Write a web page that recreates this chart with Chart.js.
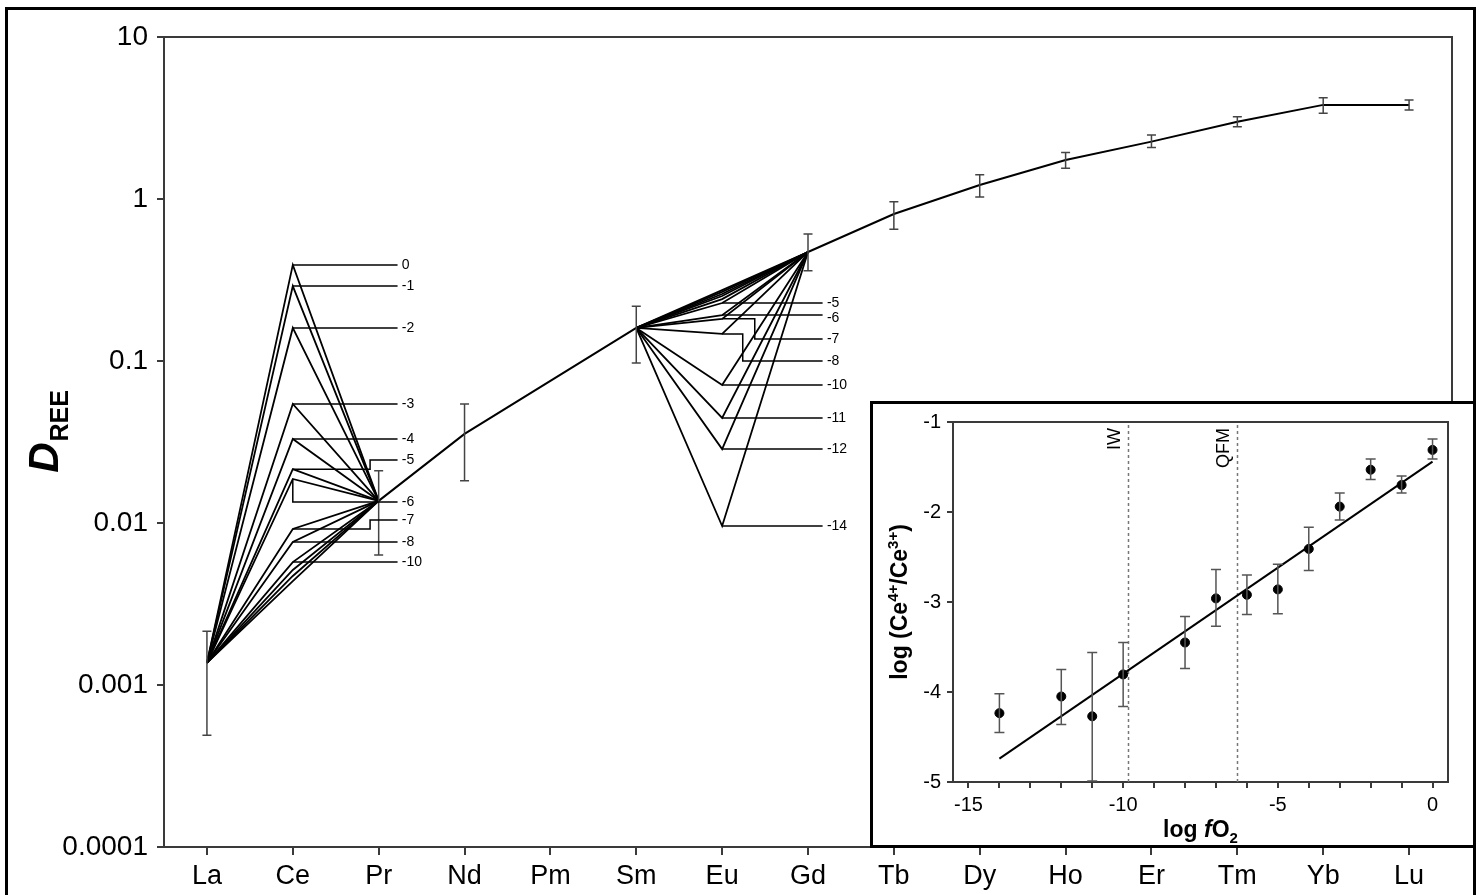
<!DOCTYPE html>
<html>
<head>
<meta charset="utf-8">
<title>D REE vs fO2</title>
<script src="https://cdn.jsdelivr.net/npm/chart.js@4.4.1/dist/chart.umd.min.js"></script>
<style>
  html, body { margin: 0; padding: 0; background: #fff; overflow: hidden; }
  #wrap { position: relative; width: 1481px; height: 895px; }
  #frame { position: absolute; left: 5px; top: 7px; width: 1465px; height: 900px; border: 3px solid #000; }
  #main { position: absolute; left: 0; top: 0; }
  #insetBox { position: absolute; left: 870px; top: 401px; width: 600px; height: 441px; border: 3px solid #000; background: #fff; }
  #inset { display: block; }
</style>
</head>
<body>
<div id="wrap">
  <canvas id="main" width="1481" height="895"></canvas>
  <div id="frame"></div>
  <div id="insetBox"><canvas id="inset" width="600" height="441"></canvas></div>
</div>
<script>
// --- partition coefficients ---
const elements = ['La', 'Ce', 'Pr', 'Nd', 'Pm', 'Sm', 'Eu', 'Gd', 'Tb', 'Dy', 'Ho', 'Er', 'Tm', 'Yb', 'Lu'];
const dTicks = [0.0001, 0.001, 0.01, 0.1, 1, 10];

// measured D and its range (null where there is none)
const dValue = [0.00137, null, 0.0137, 0.0355, null, 0.160, null, 0.471, 0.808, 1.22, 1.74, 2.26, 3.00, 3.81, 3.81];
const dLow   = [0.00049, null, 0.00634, 0.0182, null, 0.0972, null, 0.361, 0.65, 1.03, 1.55, 2.08, 2.79, 3.38, 3.54];
const dHigh  = [0.00215, null, 0.0210, 0.0543, null, 0.218, null, 0.608, 0.962, 1.41, 1.94, 2.48, 3.22, 4.22, 4.08];

// model Ce and Eu at each log fO2
const fo2Runs = [0, -1, -2, -3, -4, -5, -6, -7, -8, -10, -11, -12, -14];
const dCe = [0.392, 0.290, 0.160, 0.0543, 0.0330, 0.0215, 0.0187, 0.00918, 0.00764, 0.00574, 0.00513, 0.00471, 0.00438];
const dEu = [0.274, 0.267, 0.259, 0.252, 0.241, 0.228, 0.192, 0.182, 0.147, 0.0711, 0.0445, 0.0286, 0.00958];
const ceTagged = [0, -1, -2, -3, -4, -5, -6, -7, -8, -10];
const euTagged = [-5, -6, -7, -8, -10, -11, -12, -14];

// --- Ce4+/Ce3+ vs fO2 ---
const fo2Exp      = [-14, -12, -11, -10, -8, -7, -6, -5, -4, -3, -2, -1, 0];
const ceRatio     = [-4.235, -4.05, -4.27, -3.805, -3.45, -2.96, -2.92, -2.86, -2.41, -1.94, -1.53, -1.70, -1.31];
const ceRatioLow  = [-4.45, -4.36, -4.99, -4.16, -3.74, -3.27, -3.14, -3.13, -2.65, -2.09, -1.64, -1.79, -1.41];
const ceRatioHigh = [-4.02, -3.75, -3.56, -3.45, -3.16, -2.64, -2.70, -2.58, -2.17, -1.79, -1.41, -1.60, -1.19];
const fitX = [-14, 0];
const fitY = [-4.74, -1.44];
const bufferNames = ['IW', 'QFM'];
const bufferFo2 = [-9.83, -6.33];
const insetXLabels = [-15, -10, -5, 0];

const FONT = '"Liberation Sans", Arial, sans-serif';
const AXIS = '#3a3a3a';

// where the fO2 tags sit (in axis units)
const ceTag = { lineEnd: 2.22, textAt: 2.27 };
const euTag = { lineEnd: 7.17, textAt: 7.22 };
const ceSteps = { '-5': { x: 1.9, y: 0.0245 }, '-6': { x: 1.0, y: 0.01349 }, '-7': { x: 1.9, y: 0.01045 } };
const euSteps = { '-7': { x: 6.38, y: 0.1367 }, '-8': { x: 6.24, y: 0.1 } };
const tagNudge = { '-6': 3 };

function pick(idx) {
  return dValue.map((v, i) => idx.includes(i) ? v : null);
}

const datasets = [];
fo2Runs.forEach((f, k) => {
  const row = elements.map(() => null);
  row[0] = dValue[0]; row[1] = dCe[k]; row[2] = dValue[2];
  row[5] = dValue[5]; row[6] = dEu[k]; row[7] = dValue[7];
  datasets.push({ label: 'fO2 ' + f, data: row, borderColor: '#000', borderWidth: 1.8, pointRadius: 0, spanGaps: false });
});
datasets.push({ label: 'Pr-Sm', data: pick([2, 3, 5]), borderColor: '#000', borderWidth: 2, pointRadius: 0, spanGaps: true });
datasets.push({ label: 'Gd-Lu', data: pick([7, 8, 9, 10, 11, 12, 13, 14]), borderColor: '#000', borderWidth: 2, pointRadius: 0, spanGaps: false });

function drawErrorBar(ctx, x, y1, y2, cap) {
  ctx.beginPath();
  ctx.moveTo(x, y1); ctx.lineTo(x, y2);
  ctx.moveTo(x - cap, y1); ctx.lineTo(x + cap, y1);
  ctx.moveTo(x - cap, y2); ctx.lineTo(x + cap, y2);
  ctx.stroke();
}

const mainExtras = {
  id: 'mainExtras',
  afterDatasetsDraw(chart) {
    const { ctx, chartArea: a } = chart;
    const xs = chart.scales.x, ys = chart.scales.y;
    ctx.save();
    // frame top and right
    ctx.strokeStyle = AXIS; ctx.lineWidth = 2;
    ctx.beginPath();
    ctx.moveTo(a.left, a.top); ctx.lineTo(a.right, a.top); ctx.lineTo(a.right, a.bottom);
    ctx.stroke();

    // error bars
    ctx.strokeStyle = '#444'; ctx.lineWidth = 1.5;
    dValue.forEach((v, i) => {
      if (dLow[i] == null) return;
      drawErrorBar(ctx, xs.getPixelForValue(i), ys.getPixelForValue(dHigh[i]), ys.getPixelForValue(dLow[i]), 4.5);
    });

    // fO2 tags
    ctx.strokeStyle = '#000'; ctx.lineWidth = 1.5;
    ctx.fillStyle = '#000';
    ctx.font = '14px ' + FONT;
    ctx.textAlign = 'left'; ctx.textBaseline = 'middle';
    const tag = (xi, val, f, cfg, steps, nudge) => {
      const x0 = xs.getPixelForValue(xi), y0 = ys.getPixelForValue(val);
      const end = xs.getPixelForValue(cfg.lineEnd);
      const st = steps[String(f)];
      let yEnd = y0;
      ctx.beginPath();
      ctx.moveTo(x0, y0);
      if (st) {
        const sx = xs.getPixelForValue(st.x);
        yEnd = ys.getPixelForValue(st.y);
        ctx.lineTo(sx, y0); ctx.lineTo(sx, yEnd);
      }
      ctx.lineTo(end, yEnd);
      ctx.stroke();
      ctx.fillText(String(f), xs.getPixelForValue(cfg.textAt), yEnd + (nudge[String(f)] || 0));
    };
    ceTagged.forEach(f => tag(1, dCe[fo2Runs.indexOf(f)], f, ceTag, ceSteps, {}));
    euTagged.forEach(f => tag(6, dEu[fo2Runs.indexOf(f)], f, euTag, euSteps, tagNudge));

    // y title: D subscript REE
    ctx.translate(44, (a.top + a.bottom) / 2 - 10);
    ctx.rotate(-Math.PI / 2);
    ctx.textBaseline = 'alphabetic';
    ctx.font = 'italic bold 42px ' + FONT;
    const wD = ctx.measureText('D').width;
    ctx.font = 'bold 25px ' + FONT;
    const wR = ctx.measureText('REE').width;
    const start = -(wD + wR) / 2;
    ctx.font = 'italic bold 42px ' + FONT;
    ctx.fillText('D', start, 14);
    ctx.font = 'bold 25px ' + FONT;
    ctx.fillText('REE', start + wD + 1, 24);
    ctx.restore();
  }
};

new Chart(document.getElementById('main'), {
  type: 'line',
  data: { labels: elements, datasets },
  options: {
    responsive: false,
    devicePixelRatio: 1,
    animation: false,
    layout: { padding: { top: 37, right: 29, left: 0, bottom: 0 } },
    plugins: { legend: { display: false }, tooltip: { enabled: false } },
    elements: { line: { tension: 0 } },
    scales: {
      x: {
        type: 'category',
        offset: true,
        grid: { drawOnChartArea: false, drawTicks: true, tickLength: 8, color: AXIS, lineWidth: 2 },
        border: { display: true, color: AXIS, width: 2 },
        ticks: { color: '#000', font: { family: FONT, size: 27 }, padding: 5, maxRotation: 0, autoSkip: false },
        afterFit: s => { s.height = 48; }
      },
      y: {
        type: 'logarithmic',
        min: 0.0001,
        max: 10,
        afterBuildTicks: s => { s.ticks = dTicks.map(v => ({ value: v })); },
        grid: { drawOnChartArea: false, drawTicks: true, tickLength: 7, color: AXIS, lineWidth: 2 },
        border: { display: true, color: AXIS, width: 2 },
        ticks: { color: '#000', font: { family: FONT, size: 28 }, padding: 9, callback: v => String(v) },
        afterFit: s => { s.width = 164; }
      }
    }
  },
  plugins: [mainExtras]
});

// --- inset ---
const insetExtras = {
  id: 'insetExtras',
  beforeDatasetsDraw(chart) {
    const { ctx, chartArea: a } = chart;
    const xs = chart.scales.x;
    ctx.save();
    // buffer lines
    ctx.strokeStyle = '#777'; ctx.lineWidth = 1.5; ctx.setLineDash([3, 3]);
    bufferFo2.forEach(f => {
      const x = Math.round(xs.getPixelForValue(f)) + 0.5;
      ctx.beginPath(); ctx.moveTo(x, a.bottom); ctx.lineTo(x, a.top); ctx.stroke();
    });
    ctx.setLineDash([]);
    ctx.fillStyle = '#000';
    ctx.font = '18px ' + FONT;
    ctx.textAlign = 'right'; ctx.textBaseline = 'bottom';
    bufferFo2.forEach((f, i) => {
      const x = xs.getPixelForValue(f);
      ctx.save();
      ctx.translate(x - 4, a.top + 6);
      ctx.rotate(-Math.PI / 2);
      ctx.fillText(bufferNames[i], 0, 0);
      ctx.restore();
    });
    ctx.restore();
  },
  afterDatasetsDraw(chart) {
    const { ctx, chartArea: a } = chart;
    const xs = chart.scales.x, ys = chart.scales.y;
    ctx.save();
    ctx.strokeStyle = AXIS; ctx.lineWidth = 2;
    ctx.beginPath();
    ctx.moveTo(a.left, a.top); ctx.lineTo(a.right, a.top); ctx.lineTo(a.right, a.bottom);
    ctx.stroke();
    ctx.strokeStyle = '#555'; ctx.lineWidth = 1.5;
    fo2Exp.forEach((f, i) => {
      drawErrorBar(ctx, xs.getPixelForValue(f), ys.getPixelForValue(ceRatioHigh[i]), ys.getPixelForValue(ceRatioLow[i]), 5);
    });

    // axis titles
    ctx.fillStyle = '#000';
    ctx.textBaseline = 'alphabetic';
    const big = 'bold 23px ' + FONT, small = 'bold 15px ' + FONT;
    // y: log (Ce4+/Ce3+)
    const parts = [['log (Ce', big, 0], ['4+', small, -9], ['/Ce', big, 0], ['3+', small, -9], [')', big, 0]];
    let total = 0;
    parts.forEach(p => { ctx.font = p[1]; total += ctx.measureText(p[0]).width; });
    ctx.save();
    ctx.translate(26, (a.top + a.bottom) / 2);
    ctx.rotate(-Math.PI / 2);
    let x = -total / 2;
    parts.forEach(p => { ctx.font = p[1]; ctx.fillText(p[0], x, 8 + p[2]); x += ctx.measureText(p[0]).width; });
    ctx.restore();
    // x: log fO2
    const xp = [['log ', big, 0], ['f', 'italic bold 23px ' + FONT, 0], ['O', big, 0], ['2', small, 6]];
    total = 0;
    xp.forEach(p => { ctx.font = p[1]; total += ctx.measureText(p[0]).width; });
    x = (a.left + a.right) / 2 - total / 2;
    xp.forEach(p => { ctx.font = p[1]; ctx.fillText(p[0], x, a.bottom + 55 + p[2]); x += ctx.measureText(p[0]).width; });
    ctx.restore();
  }
};

new Chart(document.getElementById('inset'), {
  type: 'scatter',
  data: {
    datasets: [
      {
        label: 'fit',
        type: 'line',
        data: fitX.map((v, i) => ({ x: v, y: fitY[i] })),
        borderColor: '#000', borderWidth: 2, pointRadius: 0
      },
      {
        label: 'Ce4+/Ce3+',
        data: fo2Exp.map((v, i) => ({ x: v, y: ceRatio[i] })),
        backgroundColor: '#000', borderColor: '#000', pointRadius: 4.5
      }
    ]
  },
  options: {
    responsive: false,
    devicePixelRatio: 1,
    animation: false,
    layout: { padding: { top: 11, right: 25, left: 0, bottom: 0 } },
    plugins: { legend: { display: false }, tooltip: { enabled: false } },
    scales: {
      x: {
        type: 'linear',
        min: -15.5,
        max: 0.5,
        afterBuildTicks: s => {
          const t = [];
          for (let v = insetXLabels[0]; v <= insetXLabels[insetXLabels.length - 1]; v++) t.push({ value: v });
          s.ticks = t;
        },
        grid: { drawOnChartArea: false, drawTicks: true, tickLength: 6, color: AXIS, lineWidth: 2 },
        border: { display: true, color: AXIS, width: 2 },
        ticks: { color: '#000', font: { family: FONT, size: 20 }, padding: 5, maxRotation: 0, autoSkip: false,
                 callback: v => insetXLabels.includes(v) ? String(v) : '' },
        afterFit: s => { s.height = 63; }
      },
      y: {
        type: 'linear',
        min: -5,
        max: -1,
        ticks: { stepSize: 1, color: '#000', font: { family: FONT, size: 20 }, padding: 6 },
        grid: { drawOnChartArea: false, drawTicks: true, tickLength: 6, color: AXIS, lineWidth: 2 },
        border: { display: true, color: AXIS, width: 2 },
        afterFit: s => { s.width = 80; }
      }
    }
  },
  plugins: [insetExtras]
});
</script>
</body>
</html>
